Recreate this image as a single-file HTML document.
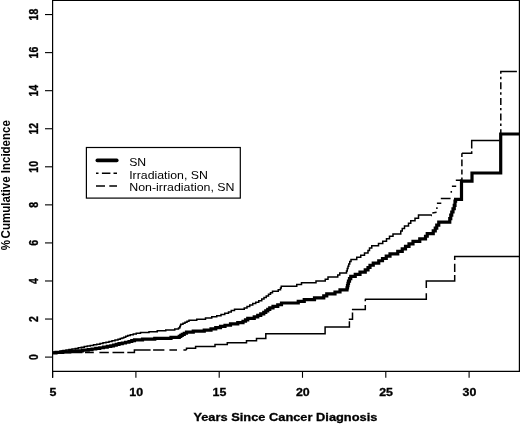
<!DOCTYPE html>
<html><head><meta charset="utf-8"><style>
html,body{margin:0;padding:0;background:#fff;}
svg{display:block;font-family:"Liberation Sans",sans-serif;will-change:transform;}
text{opacity:0.999;}
</style></head><body>
<svg width="520" height="424" viewBox="0 0 520 424">
<rect width="520" height="424" fill="#fff"/>
<!-- plot box -->
<g stroke="#000" fill="none"><line x1="52.6" x2="52.6" y1="0" y2="377.8" stroke-width="1.2"/><line x1="52" x2="520" y1="0.45" y2="0.45" stroke-width="1.1"/><line x1="519.4" x2="519.4" y1="0" y2="372" stroke-width="1.2"/><line x1="52" x2="520" y1="371.4" y2="371.4" stroke-width="1.15"/></g>
<g stroke="#000" stroke-width="1.1">
<line x1="45" x2="52.6" y1="357.10" y2="357.10"/>
<line x1="45" x2="52.6" y1="319.04" y2="319.04"/>
<line x1="45" x2="52.6" y1="280.98" y2="280.98"/>
<line x1="45" x2="52.6" y1="242.92" y2="242.92"/>
<line x1="45" x2="52.6" y1="204.86" y2="204.86"/>
<line x1="45" x2="52.6" y1="166.80" y2="166.80"/>
<line x1="45" x2="52.6" y1="128.74" y2="128.74"/>
<line x1="45" x2="52.6" y1="90.68" y2="90.68"/>
<line x1="45" x2="52.6" y1="52.62" y2="52.62"/>
<line x1="45" x2="52.6" y1="14.56" y2="14.56"/>
<line x1="52.60" x2="52.60" y1="371.4" y2="377.8"/>
<line x1="135.90" x2="135.90" y1="371.4" y2="377.8"/>
<line x1="219.20" x2="219.20" y1="371.4" y2="377.8"/>
<line x1="302.50" x2="302.50" y1="371.4" y2="377.8"/>
<line x1="385.80" x2="385.80" y1="371.4" y2="377.8"/>
<line x1="469.10" x2="469.10" y1="371.4" y2="377.8"/>
</g>
<g font-weight="bold" font-size="10.9" fill="#000" stroke="#000" stroke-width="0.3" text-anchor="middle">
<text font-size="10.5" transform="translate(37.7,357.10) scale(1.18,1) rotate(-90)">0</text>
<text font-size="10.5" transform="translate(37.7,319.04) scale(1.18,1) rotate(-90)">2</text>
<text font-size="10.5" transform="translate(37.7,280.98) scale(1.18,1) rotate(-90)">4</text>
<text font-size="10.5" transform="translate(37.7,242.92) scale(1.18,1) rotate(-90)">6</text>
<text font-size="10.5" transform="translate(37.7,204.86) scale(1.18,1) rotate(-90)">8</text>
<text font-size="10.5" transform="translate(37.7,166.80) scale(1.18,1) rotate(-90)">10</text>
<text font-size="10.5" transform="translate(37.7,128.74) scale(1.18,1) rotate(-90)">12</text>
<text font-size="10.5" transform="translate(37.7,90.68) scale(1.18,1) rotate(-90)">14</text>
<text font-size="10.5" transform="translate(37.7,52.62) scale(1.18,1) rotate(-90)">16</text>
<text font-size="10.5" transform="translate(37.7,14.56) scale(1.18,1) rotate(-90)">18</text>
<text font-size="10.5" transform="translate(52.90,396) scale(1.18,1)">5</text>
<text font-size="10.5" transform="translate(136.20,396) scale(1.18,1)">10</text>
<text font-size="10.5" transform="translate(219.50,396) scale(1.18,1)">15</text>
<text font-size="10.5" transform="translate(302.80,396) scale(1.18,1)">20</text>
<text font-size="10.5" transform="translate(386.10,396) scale(1.18,1)">25</text>
<text font-size="10.5" transform="translate(469.40,396) scale(1.18,1)">30</text>
<text x="285.4" y="421.1" font-size="11" textLength="184" lengthAdjust="spacingAndGlyphs">Years Since Cancer Diagnosis</text>
<text transform="translate(9.6,185.2) scale(1.14,1) rotate(-90)" font-size="11.5" stroke="none">%<tspan dx="1.6">Cumulative Incidence</tspan></text>
</g>
<g fill="none" stroke="#000" stroke-linejoin="miter">
<g stroke-width="1.5">
<path id="lowdash" d="M52.5,352.6 H82.5 M85,352.6 H93.8 M99.4,352.6 H108.8 M112.5,352.6 H124.2 M127.3,352.6 H134.4 V350.1 H150.6 M153.1,350.1 H164.4 M169.4,350.1 H177 M183.4,350.1 H186.5"/>
<path id="lowsolid" d="M186.5,350.1 V348.2 H195.6 V346.5 H215 V344.6 H227.3 V342.7 H246.5 V340.8 H256.5 V338.5 H265.8 V333.7 H325.1 V326.9 H349.4 V321.3 M348.8,319.2 H352.5 V312.5 M351.9,309.6 H365.3 V305 M365.3,301.3 V299.3 M364.8,299.2 H426.3 V293.2 M426.3,288.1 V281.1 H454.7 V275 M454.7,271.9 V263.8 M454.7,260 V256.6 H519"/>
<path id="upper" d="M52.50,352.70 H54.00 V352.18 H57.00 V351.65 H60.00 V351.11 H63.00 V350.58 H66.00 V350.04 H69.00 V349.50 H72.00 V348.97 H75.25 V348.38 H78.25 V347.79 H81.25 V347.20 H84.25 V346.60 H87.25 V346.01 H90.25 V345.42 H93.50 V344.78 H96.75 V344.13 H100.00 V343.49 H103.00 V342.81 H106.00 V342.14 H109.00 V341.46 H112.00 V340.78 H115.00 V340.07 H118.00 V339.34 H120.25 V338.62 H122.00 V337.89 H123.75 V337.16 H125.75 V336.37 H127.75 V335.62 H130.25 V334.86 H133.25 V334.08 H136.25 V333.30 H140.50 V332.52 H149.00 V331.69 H157.25 V330.82 H165.75 V329.91 H174.75 V328.95 H178.50 V327.98 H179.75 V326.86 H180.25 V325.55 H180.75 V324.25 H183.00 V323.26 H185.00 V322.24 H187.00 V321.22 H189.00 V320.20 H196.75 V319.13 H205.50 V318.00 H211.75 V316.83 H216.75 V315.63 H221.00 V314.40 H224.75 V313.18 H228.50 V311.89 H231.25 V310.58 H234.50 V309.29 H244.25 V307.94 H247.00 V306.49 H249.75 V305.06 H252.75 V303.60 H255.75 V302.14 H258.75 V300.68 H261.75 V299.10 H264.00 V297.52 H266.25 V295.94 H268.50 V294.30 H270.50 V292.78 H272.50 V291.25 H278.25 V289.70 H280.50 V288.07 H281.25 V286.34 H296.75 V284.53 H301.50 V282.82 H316.00 V281.02 H325.25 V279.13 H328.00 V277.08 H337.75 V275.08 H339.75 V273.07 H346.50 V270.88 H347.25 V268.53 H348.00 V266.18 H348.75 V263.88 H349.75 V261.56 H351.00 V259.44 H356.75 V257.33 H360.75 V255.18 H364.50 V252.99 H368.00 V250.53 H369.50 V248.04 H371.75 V245.82 H378.50 V243.52 H382.75 V241.19 H386.50 V238.78 H389.50 V236.27 H393.00 V233.90 H400.75 V231.11 H402.25 V228.57 H404.50 V226.07 H408.50 V223.37 H410.75 V220.66 H415.00 V218.15 H418.50 V214.91 H431.00 V215.60"/>
<path id="upper2" d="M431,215.6 H431.9 M432.3,213 L436.6,212.2 M436.9,209 V207.3 M436.9,203.3 H441.3 M440.8,198.5 H450.6 M451.3,192.8 V191 M451.9,186.3 H456.2 M455.8,180.2 H461.9 M461.9,153.2 H471.7 V151.3 M471.7,148.4 V140.4 H499.5 M500.1,71.5 H516.9"/>
<path id="upperv1" d="M461.9,153.2 V156.9 M461.9,159.4 V166.2 M461.9,169.4 V174.4 M461.9,177.5 V180.3"/>
<path id="upperv2" stroke-dasharray="7 3 2.4 3.2" stroke-dashoffset="4.75" d="M500.8,71.5 V137"/>
</g>
<path id="mid" stroke-width="3.2" d="M52.50,352.90 H56.00 V352.38 H62.75 V351.87 H69.75 V351.33 H76.50 V350.78 H82.50 V350.20 H88.25 V349.59 H92.00 V348.98 H95.75 V348.38 H99.75 V347.73 H103.50 V347.09 H107.25 V346.45 H110.75 V345.78 H113.50 V345.09 H116.25 V344.40 H119.00 V343.71 H122.25 V342.98 H125.50 V342.26 H129.00 V341.48 H131.75 V340.71 H134.50 V339.93 H142.50 V339.14 H154.75 V338.28 H171.00 V337.35 H179.25 V336.35 H180.75 V335.35 H182.25 V334.34 H184.25 V333.25 H186.50 V332.21 H193.25 V331.17 H204.25 V330.07 H211.00 V328.89 H215.75 V327.70 H220.50 V326.47 H225.00 V325.23 H230.50 V323.95 H237.75 V322.64 H243.00 V321.27 H245.50 V319.81 H247.75 V318.32 H254.25 V316.87 H257.75 V315.43 H260.75 V313.94 H263.75 V312.44 H265.75 V310.91 H267.75 V309.38 H269.75 V307.85 H273.00 V306.33 H277.75 V304.77 H281.50 V303.02 H298.25 V301.31 H304.25 V299.57 H314.50 V297.79 H323.75 V295.81 H326.75 V293.94 H335.00 V292.02 H340.00 V289.97 H347.00 V287.95 H347.50 V285.70 H348.00 V283.45 H348.50 V281.19 H349.50 V278.69 H350.75 V276.41 H355.25 V274.28 H360.00 V272.15 H365.25 V269.93 H368.00 V267.51 H370.00 V265.26 H373.25 V263.06 H378.75 V260.75 H382.50 V258.48 H386.25 V256.18 H390.00 V253.84 H397.75 V251.41 H402.25 V248.97 H405.50 V246.47 H409.00 V243.92 H413.00 V241.40 H419.75 V238.85 H425.50 V236.25 H427.25 V233.57 H433.25 V230.90 H435.25 V228.11 H436.75 V225.15 H438.75 V222.15 H449.75 V218.67 H450.75 V215.14 H451.75 V212.02 H453.00 V208.74 H454.25 V205.32 H455.00 V201.19 H455.60 V199.30 L461.5,199.3 L461.5,181.2 L472.0,181.2 L472.0,173.0 L500.7,173.0 L500.7,134.0 L519.5,134.0"/>
</g>
<rect x="86.4" y="147.5" width="153.9" height="50.6" fill="#fff" stroke="#000" stroke-width="1.2"/>
<g stroke="#000" fill="none">
<line x1="97.3" x2="116.8" y1="160.4" y2="160.4" stroke-width="3.6" stroke-linecap="round"/>
<path stroke-width="1.5" d="M96,173.2 H98.5 M101.9,173.2 H110.4 M113.5,173.2 H117"/>
<path stroke-width="1.5" d="M96,186 H105 M109.3,186 H117"/>
</g>
<g font-size="10.9" fill="#000">
<text x="129.2" y="165.7" textLength="17" lengthAdjust="spacingAndGlyphs">SN</text>
<text x="129.2" y="178.7" textLength="78.7" lengthAdjust="spacingAndGlyphs">Irradiation, SN</text>
<text x="129.2" y="191.2" textLength="105.3" lengthAdjust="spacingAndGlyphs">Non-irradiation, SN</text>
</g>
</svg>
</body></html>
